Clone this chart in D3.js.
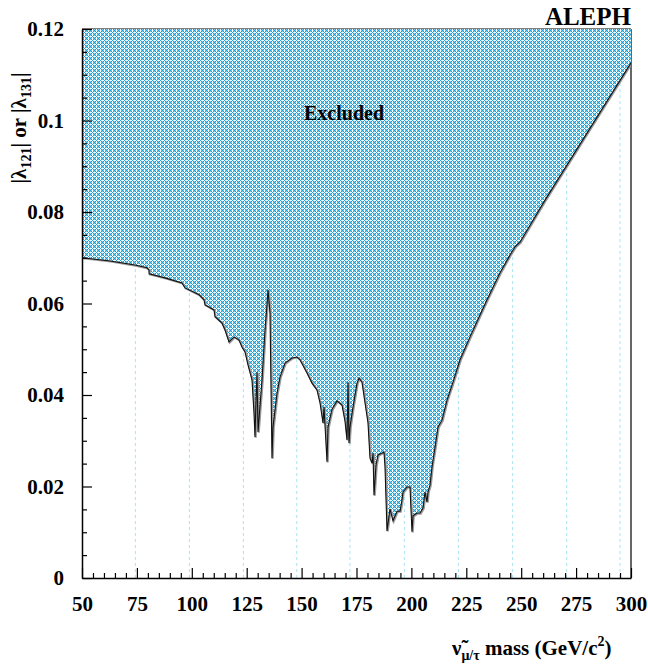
<!DOCTYPE html>
<html><head><meta charset="utf-8">
<script src="https://cdn.jsdelivr.net/npm/d3@7"></script>
<style>
html,body{margin:0;padding:0;background:#fff;}
svg{display:block;}
text{font-family:"Liberation Serif","Times New Roman",serif;font-weight:bold;fill:#000;}
</style></head>
<body>
<svg id="chart" width="648" height="664"></svg>
<script>
// ---- data ----
const massPts = [50.0, 62.75, 74.13, 79.60, 80.51, 80.55, 87.80, 95.54, 96.90, 103.28, 105.56, 106.01,
  110.11, 110.56, 113.75, 115.12, 116.94, 119.22, 121.49, 122.86, 124.23, 125.59, 127.41, 128.32,
  128.78, 129.23, 129.69, 130.15, 131.97, 133.33, 134.24, 134.70, 135.61, 136.52, 136.98, 138.80,
  140.16, 142.44, 145.63, 147.91, 149.27, 152.46, 154.74, 157.01, 158.38, 159.74, 160.20, 161.57,
  162.02, 163.84, 166.12, 168.40, 169.76, 170.67, 171.13, 171.58, 172.04, 173.41, 175.23, 176.14,
  177.50, 178.87, 180.24, 181.15, 182.06, 182.52, 182.97, 183.88, 184.79, 186.61, 187.52, 187.98,
  188.89, 190.26, 191.62, 193.44, 194.81, 195.72, 196.17, 197.99, 199.36, 199.82, 200.27, 200.73,
  202.55, 203.92, 205.28, 206.19, 207.10, 207.56, 208.47, 209.38, 210.75, 212.11, 213.93, 216.21,
  218.94, 222.13, 226.68, 231.24, 234.43, 240.35, 244.90, 247.18, 249.45, 260.84, 300.0];
const lambdaPts = [0.0700, 0.0693, 0.0684, 0.0678, 0.0673, 0.0665, 0.0656, 0.0645, 0.0634, 0.0619, 0.0608, 0.0597,
  0.0586, 0.0571, 0.0557, 0.0542, 0.0516, 0.0527, 0.0520, 0.0505, 0.0494, 0.0466, 0.0433, 0.0361,
  0.0308, 0.0389, 0.0450, 0.0319, 0.0433, 0.0542, 0.0597, 0.0630, 0.0579, 0.0262, 0.0330, 0.0404,
  0.0439, 0.0470, 0.0481, 0.0483, 0.0477, 0.0448, 0.0426, 0.0411, 0.0383, 0.0339, 0.0374, 0.0254,
  0.0330, 0.0369, 0.0387, 0.0378, 0.0343, 0.0302, 0.0428, 0.0295, 0.0330, 0.0374, 0.0426, 0.0437,
  0.0428, 0.0383, 0.0339, 0.0262, 0.0251, 0.0273, 0.0181, 0.0247, 0.0269, 0.0273, 0.0275, 0.0243,
  0.0103, 0.0151, 0.0125, 0.0146, 0.0146, 0.0171, 0.0188, 0.0199, 0.0199, 0.0149, 0.0101, 0.0136,
  0.0142, 0.0142, 0.0153, 0.0188, 0.0166, 0.0188, 0.0203, 0.0243, 0.0286, 0.0330, 0.0345, 0.0389,
  0.0428, 0.0477, 0.0527, 0.0575, 0.0608, 0.0667, 0.0706, 0.0724, 0.0734, 0.0826, 0.1126];
const gridMasses = [74.3, 98.9, 123.5, 147.8, 172.0, 196.8, 221.4, 246.1, 270.7, 295.0];
const xTickMajor = [50, 75, 100, 125, 150, 175, 200, 225, 250, 275, 300];
const xTickLabels = ["50", "75", "100", "125", "150", "175", "200", "225", "250", "275", "300"];
const yTickMajor = [0, 0.02, 0.04, 0.06, 0.08, 0.1, 0.12];
const yTickLabels = ["0", "0.02", "0.04", "0.06", "0.08", "0.1", "0.12"];
const xDomain = [50, 300];
const yDomain = [0, 0.12];

// ---- layout ----
const L = 82, R = 631, T = 29, B = 578;
const svg = d3.select("#chart");
const x = d3.scaleLinear().domain(xDomain).range([L, R]);
const y = d3.scaleLinear().domain(yDomain).range([B, T]);

// pattern (cross-hatch)
const defs = svg.append("defs");
const pat = defs.append("pattern").attr("id", "hatch").attr("patternUnits", "userSpaceOnUse")
  .attr("width", 4).attr("height", 4);
pat.append("rect").attr("width", 4).attr("height", 4).attr("fill", "#ffffff");
const bluePix = [];
for (let i = 0; i < 4; i++) for (let j = 0; j < 4; j++) {
  if ((i + j) % 4 === 0 || ((i - j) % 4 + 4) % 4 === 0) bluePix.push([i, j]);
}
pat.selectAll("rect.p").data(bluePix).enter().append("rect").attr("class", "p")
  .attr("x", d => d[0]).attr("y", d => d[1]).attr("width", 1).attr("height", 1)
  .attr("fill", "#14a2da").attr("shape-rendering", "crispEdges");
const armPix = [[1, 2], [3, 2], [2, 1], [2, 3]];
pat.selectAll("rect.a").data(armPix).enter().append("rect").attr("class", "a")
  .attr("x", d => d[0]).attr("y", d => d[1]).attr("width", 1).attr("height", 1)
  .attr("fill", "#80cdea").attr("shape-rendering", "crispEdges");

defs.append("clipPath").attr("id", "plotclip").append("rect")
  .attr("x", L).attr("y", T).attr("width", R - L).attr("height", B - T);

// grid lines (dashed light cyan)
svg.append("g").selectAll("line").data(gridMasses).enter().append("line")
  .attr("x1", d => x(d)).attr("x2", d => x(d)).attr("y1", T).attr("y2", B)
  .attr("stroke", "#a8e2f2").attr("stroke-width", 1).attr("stroke-dasharray", "3,3");

// frame right/top
svg.append("line").attr("x1", R).attr("x2", R).attr("y1", T).attr("y2", B).attr("stroke", "#000").attr("stroke-width", 1.2);
svg.append("line").attr("x1", L).attr("x2", R).attr("y1", T).attr("y2", T).attr("stroke", "#000").attr("stroke-width", 1.2);

const pts = massPts.map((m, i) => [m, lambdaPts[i]]);
const area = d3.area().x(d => x(d[0])).y0(y(yDomain[1])).y1(d => y(d[1]));
const line = d3.line().x(d => x(d[0])).y(d => y(d[1]));

const gPlot = svg.append("g").attr("clip-path", "url(#plotclip)");
gPlot.append("path").datum(pts).attr("d", area).attr("fill", "url(#hatch)");
gPlot.append("path").datum(pts).attr("d", line).attr("fill", "none")
  .attr("stroke", "#9a9a9a").attr("stroke-width", 2).attr("transform", "translate(0.8,0.6)");
gPlot.append("path").datum(pts).attr("d", line).attr("fill", "none")
  .attr("stroke", "#111").attr("stroke-width", 1.1);

// axes
const xMinor = d3.range(50, 301, 5).filter(v => v % 25 !== 0);
const yMinor = d3.range(0, 0.1201, 0.005).filter(v => Math.abs(v / 0.02 - Math.round(v / 0.02)) > 1e-6);

const gxMinor = svg.append("g").attr("transform", `translate(0,${B})`)
  .call(d3.axisBottom(x).tickValues(xMinor).tickSize(-5).tickSizeOuter(0).tickFormat(""));
gxMinor.select(".domain").remove();
const gx = svg.append("g").attr("transform", `translate(0,${B})`)
  .call(d3.axisBottom(x).tickValues(xTickMajor).tickSize(-10).tickSizeOuter(0).tickPadding(18)
    .tickFormat((d, i) => xTickLabels[i]));

const gyMinor = svg.append("g").attr("transform", `translate(${L},0)`)
  .call(d3.axisLeft(y).tickValues(yMinor).tickSize(-5).tickSizeOuter(0).tickFormat(""));
gyMinor.select(".domain").remove();
const gy = svg.append("g").attr("transform", `translate(${L},0)`)
  .call(d3.axisLeft(y).tickValues(yTickMajor).tickSize(-10).tickSizeOuter(0).tickPadding(18)
    .tickFormat((d, i) => yTickLabels[i]));

svg.selectAll(".tick line").attr("stroke", "#000").attr("stroke-width", 1.2);
svg.selectAll(".domain").attr("stroke", "#000").attr("stroke-width", 1.5);
svg.selectAll(".tick text").style("font-family", "'Liberation Serif', serif").style("font-weight", "bold")
  .style("font-size", "21px").attr("fill", "#000");

// texts
svg.append("text").attr("x", R).attr("y", 25).attr("text-anchor", "end").style("font-size", "25px").text("ALEPH");
svg.append("text").attr("x", 344).attr("y", 120).attr("text-anchor", "middle").style("font-size", "20px").text("Excluded");

// y label
const yl = svg.append("text").attr("transform", "translate(26,128) rotate(-90)").attr("text-anchor", "middle")
  .style("font-size", "21px");
yl.append("tspan").text("|λ");
yl.append("tspan").attr("dy", 5).style("font-size", "14px").text("121");
yl.append("tspan").attr("dy", -5).text("| or |λ");
yl.append("tspan").attr("dy", 5).style("font-size", "14px").text("131");
yl.append("tspan").attr("dy", -5).text("|");

// x label
const xl = svg.append("text").attr("x", 452).attr("y", 655).style("font-size", "21px");
xl.append("tspan").text("ν\u0303");
xl.append("tspan").attr("dy", 5).style("font-size", "14px").text("μ/τ");
xl.append("tspan").attr("dy", -5).text(" mass (GeV/c");
xl.append("tspan").attr("dy", -9).style("font-size", "14px").text("2");
xl.append("tspan").attr("dy", 9).text(")");
</script>
</body></html>
